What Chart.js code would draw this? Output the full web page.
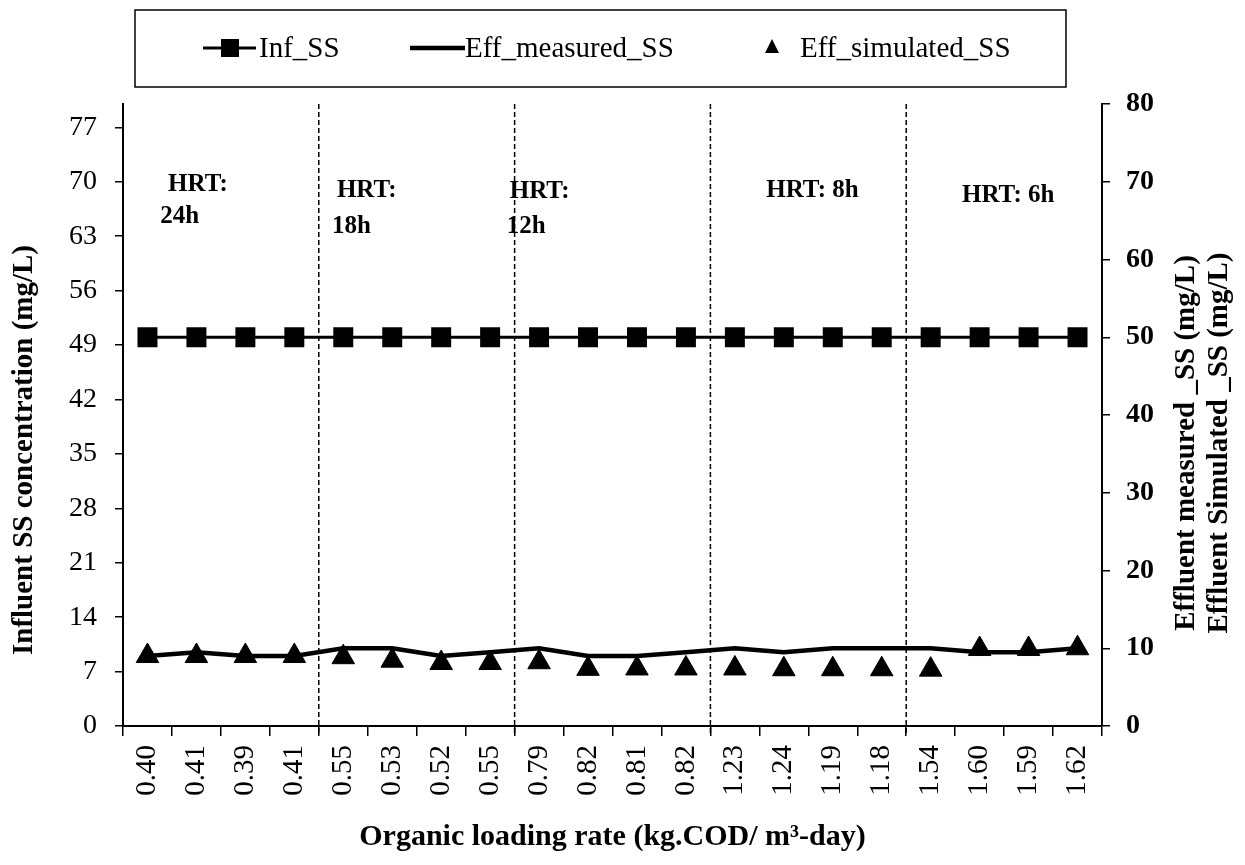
<!DOCTYPE html>
<html>
<head>
<meta charset="utf-8">
<script src="https://cdn.jsdelivr.net/npm/chart.js@4.4.1/dist/chart.umd.min.js"></script>
<style>
  body { margin: 0; background: #fff; }
  #chart { display: block; }
</style>
</head>
<body>
<canvas id="chart" width="1245" height="865"></canvas>
<script>
// organic loading rate for every sample (x categories)
var olrLabels = ["0.40", "0.41", "0.39", "0.41", "0.55", "0.53", "0.52", "0.55", "0.79", "0.82",
                 "0.81", "0.82", "1.23", "1.24", "1.19", "1.18", "1.54", "1.60", "1.59", "1.62"];

// series values (mg/L)
var infSS = [50, 50, 50, 50, 50, 50, 50, 50, 50, 50, 50, 50, 50, 50, 50, 50, 50, 50, 50, 50];
var effMeasuredSS = [9, 9.5, 9, 9, 10, 10, 9, 9.5, 10, 9, 9, 9.5, 10, 9.5, 10, 10, 10, 9.5, 9.5, 10];
var effSimulatedSS = [9, 9, 9, 9, 8.85, 8.4, 8.1, 8.1, 8.2, 7.35, 7.4, 7.4, 7.4, 7.3, 7.3, 7.3, 7.25, 9.9, 9.9, 10];

// HRT phases: index of the first sample in each new phase
var phaseStarts = [4, 8, 12, 16];
var hrtText = [["HRT:", "24h"], ["HRT:", "18h"], ["HRT:", "12h"], ["HRT: 8h"], ["HRT: 6h"]];

var FONT = "'Liberation Serif', 'Times New Roman', serif";

//draws the dashed phase lines, HRT notes, y titles and the boxed legend
var extras = {
  id: "extras",
  afterDraw: function(chart) {
    var ctx = chart.ctx;
    var x = chart.scales.x;
    var y = chart.scales.y;
    var area = chart.chartArea;

    // dashed lines between HRT phases
    ctx.save();
    ctx.strokeStyle = "#000";
    ctx.lineWidth = 1.5;
    ctx.setLineDash([5, 3]);
    phaseStarts.forEach(function(s) {
      var px = (x.getPixelForValue(s - 1) + x.getPixelForValue(s)) / 2;
      ctx.beginPath();
      ctx.moveTo(px, area.top);
      ctx.lineTo(px, area.bottom + 10);
      ctx.stroke();
    });
    ctx.restore();

    // HRT notes, placed from the phase start on the category scale
    ctx.save();
    ctx.fillStyle = "#000";
    ctx.font = "bold 25px " + FONT;
    ctx.textAlign = "left";
    ctx.textBaseline = "middle";
    var starts = [0].concat(phaseStarts);
    var shifts = [[0.42, 0.26], [-0.13, -0.23], [-0.6, -0.66], [0.64], [0.64]];
    var levels = [[69.7, 65.5], [68.9, 64.3], [68.7, 64.2], [68.9], [68.2]];
    hrtText.forEach(function(lines, i) {
      lines.forEach(function(t, j) {
        ctx.fillText(t, x.getPixelForValue(starts[i] + shifts[i][j]), y.getPixelForValue(levels[i][j]));
      });
    });
    ctx.restore();

    // left y title
    ctx.save();
    ctx.fillStyle = "#000";
    ctx.font = "bold 29px " + FONT;
    ctx.textAlign = "center";
    ctx.textBaseline = "middle";
    ctx.translate(25, 450);
    ctx.rotate(-Math.PI / 2);
    ctx.fillText("Influent SS concentration (mg/L)", 0, 0);
    ctx.restore();

    // right y title (two lines)
    ctx.save();
    ctx.fillStyle = "#000";
    ctx.font = "bold 29px " + FONT;
    ctx.textAlign = "center";
    ctx.textBaseline = "middle";
    ctx.translate(1203, 443);
    ctx.rotate(-Math.PI / 2);
    ctx.fillText("Effluent measured _SS (mg/L)", 0, -16);
    ctx.fillText("Effluent Simulated _SS (mg/L)", 0, 17);
    ctx.restore();

    // legend box
    ctx.save();
    ctx.strokeStyle = "#000";
    ctx.lineWidth = 1.5;
    ctx.strokeRect(135, 10, 931, 77);
    ctx.fillStyle = "#000";
    ctx.font = "29px " + FONT;
    ctx.textAlign = "left";
    ctx.textBaseline = "middle";
    var ly = 48;
    // Inf_SS
    ctx.lineWidth = 3;
    ctx.beginPath();
    ctx.moveTo(203, ly);
    ctx.lineTo(256, ly);
    ctx.stroke();
    ctx.fillRect(221, ly - 9, 18, 18);
    ctx.fillText(chart.data.datasets[0].label, 259, ly + 1);
    // Eff_measured_SS
    ctx.lineWidth = 4.5;
    ctx.beginPath();
    ctx.moveTo(410, ly);
    ctx.lineTo(465, ly);
    ctx.stroke();
    ctx.fillText(chart.data.datasets[1].label, 465, ly + 1);
    // Eff_simulated_SS
    ctx.beginPath();
    ctx.moveTo(772, ly - 9);
    ctx.lineTo(779, ly + 5);
    ctx.lineTo(765, ly + 5);
    ctx.closePath();
    ctx.fill();
    ctx.fillText(chart.data.datasets[2].label, 800, ly + 1);
    ctx.restore();
  }
};

var ctx1 = document.getElementById("chart").getContext("2d");

var chart1 = new Chart(ctx1, {
  type: "line",
  data: {
    labels: olrLabels,
    datasets: [
      {
        label: "Inf_SS",
        data: infSS,
        yAxisID: "y",
        borderColor: "#000",
        backgroundColor: "#000",
        borderWidth: 3,
        pointStyle: "rect",
        pointRadius: 12,
        pointHoverRadius: 12,
        order: 3
      },
      {
        label: "Eff_measured_SS",
        data: effMeasuredSS,
        yAxisID: "y1",
        borderColor: "#000",
        backgroundColor: "#000",
        borderWidth: 4.5,
        pointRadius: 0,
        pointHoverRadius: 0,
        order: 2
      },
      {
        label: "Eff_simulated_SS",
        data: effSimulatedSS,
        yAxisID: "y1",
        showLine: false,
        borderColor: "#000",
        backgroundColor: "#000",
        pointStyle: "triangle",
        pointRadius: 13,
        pointHoverRadius: 13,
        order: 1
      }
    ]
  },
  options: {
    responsive: false,
    animation: false,
    devicePixelRatio: 1,
    layout: { padding: { top: 104, left: 0, right: 0, bottom: 0 } },
    plugins: {
      legend: { display: false },
      title: { display: false },
      tooltip: { enabled: false }
    },
    scales: {
      x: {
        offset: true,
        grid: { offset: true, drawOnChartArea: false, tickLength: 10, color: "#000", lineWidth: 1.5 },
        border: { color: "#000", width: 2 },
        ticks: {
          color: "#000",
          font: { family: FONT, size: 29 },
          minRotation: 90,
          maxRotation: 90,
          autoSkip: false,
          padding: 9
        },
        title: {
          display: true,
          text: "Organic loading rate (kg.COD/ m³-day)",
          color: "#000",
          font: { family: FONT, size: 30, weight: "bold" },
          padding: { top: 0, bottom: 10 }
        },
        afterFit: function(scale) { scale.height = 139; }
      },
      y: {
        position: "left",
        min: 0,
        max: 80,
        grid: { drawOnChartArea: false, tickLength: 8, color: "#000", lineWidth: 1.5 },
        border: { color: "#000", width: 2 },
        ticks: {
          stepSize: 7,
          includeBounds: false,
          color: "#000",
          font: { family: FONT, size: 28 },
          padding: 18
        },
        afterFit: function(scale) { scale.width = 123; }
      },
      y1: {
        position: "right",
        min: 0,
        max: 80,
        grid: { drawOnChartArea: false, tickLength: 8, color: "#000", lineWidth: 1.5 },
        border: { color: "#000", width: 2 },
        ticks: {
          stepSize: 10,
          color: "#000",
          font: { family: FONT, size: 28, weight: "bold" },
          padding: 16
        },
        afterFit: function(scale) { scale.width = 143; }
      }
    }
  },
  plugins: [extras]
});
</script>
</body>
</html>
